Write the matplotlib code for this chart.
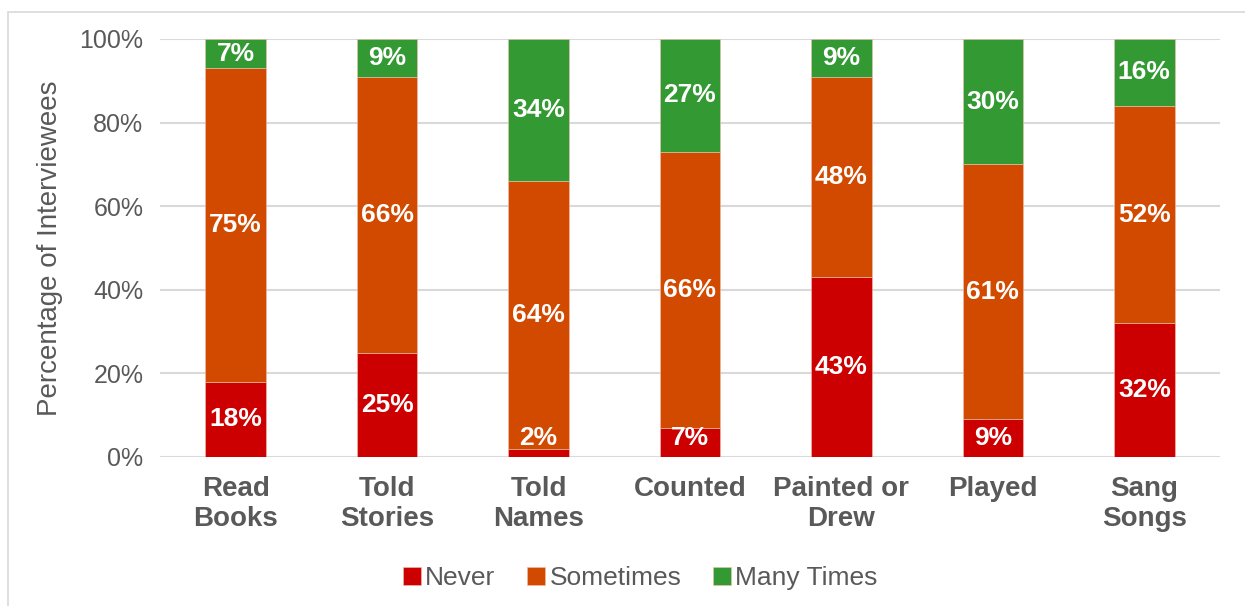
import matplotlib
matplotlib.use('Agg')
import matplotlib.pyplot as plt
import numpy as np

plt.rcParams['font.family'] = ['Liberation Sans', 'DejaVu Sans']

categories = ['Read\nBooks', 'Told\nStories', 'Told\nNames', 'Counted', 'Painted or\nDrew', 'Played', 'Sang\nSongs']
never = [18, 25, 2, 7, 43, 9, 32]
sometimes = [75, 66, 64, 66, 48, 61, 52]
many_times = [7, 9, 34, 27, 9, 30, 16]
series_names = ['Never', 'Sometimes', 'Many Times']
colors = ['#CC0000', '#D24A00', '#339933']

fig = plt.figure(figsize=(12.45, 6.06), dpi=100)
# light border around chart area
fig.patches.append(plt.Rectangle((8 / 1245, -0.1), 1.2, 1 - 12 / 606 + 0.1, transform=fig.transFigure,
                                 fill=False, edgecolor='#D9D9D9', linewidth=1.2))
ax = fig.add_axes([160 / 1245, 1 - 457 / 606, 1060 / 1245, 418 / 606])

x = np.arange(len(categories))
bottom = np.zeros(len(categories))
for vals, name, col in zip([never, sometimes, many_times], series_names, colors):
    vals = np.array(vals, dtype=float)
    ax.bar(x, vals, 0.4, bottom=bottom, color=col, label=name, edgecolor='#f0c0b0', linewidth=0.4, zorder=3)
    for xi, b, v in zip(x, bottom, vals):
        yc = b + v / 2
        if b == 0:
            yc = max(yc, 4.5)
        ax.text(xi, yc, '{:d}%'.format(int(v)), ha='center', va='center', color='white',
                fontsize=19, fontweight='bold', zorder=4)
    bottom += vals

ax.set_xlim(-0.5, len(categories) - 0.5)
ax.set_ylim(0, 100)
ax.set_yticks(range(0, 101, 20))
ax.set_yticklabels(['{}%'.format(v) for v in range(0, 101, 20)])
ax.set_xticks(x)
ax.set_xticklabels(categories, fontweight='bold', fontsize=20, color='#595959', linespacing=1.2)
ax.tick_params(axis='y', labelsize=18, colors='#595959', length=0, pad=12)
ax.tick_params(axis='x', length=0, pad=14)
ax.grid(axis='y', color='#D9D9D9', linewidth=1.5, zorder=0)
for s in ax.spines.values():
    s.set_visible(False)
ax.set_ylabel('Percentage of Interviewees', fontsize=20, color='#595959', labelpad=12)

ax.legend(loc='center', bbox_to_anchor=(0.453, -0.29), ncol=3, frameon=False, fontsize=19,
          handlelength=0.7, handleheight=0.7, handletextpad=0.15, columnspacing=1.2,
          labelcolor='#595959')

plt.savefig('out.png', dpi=100)
